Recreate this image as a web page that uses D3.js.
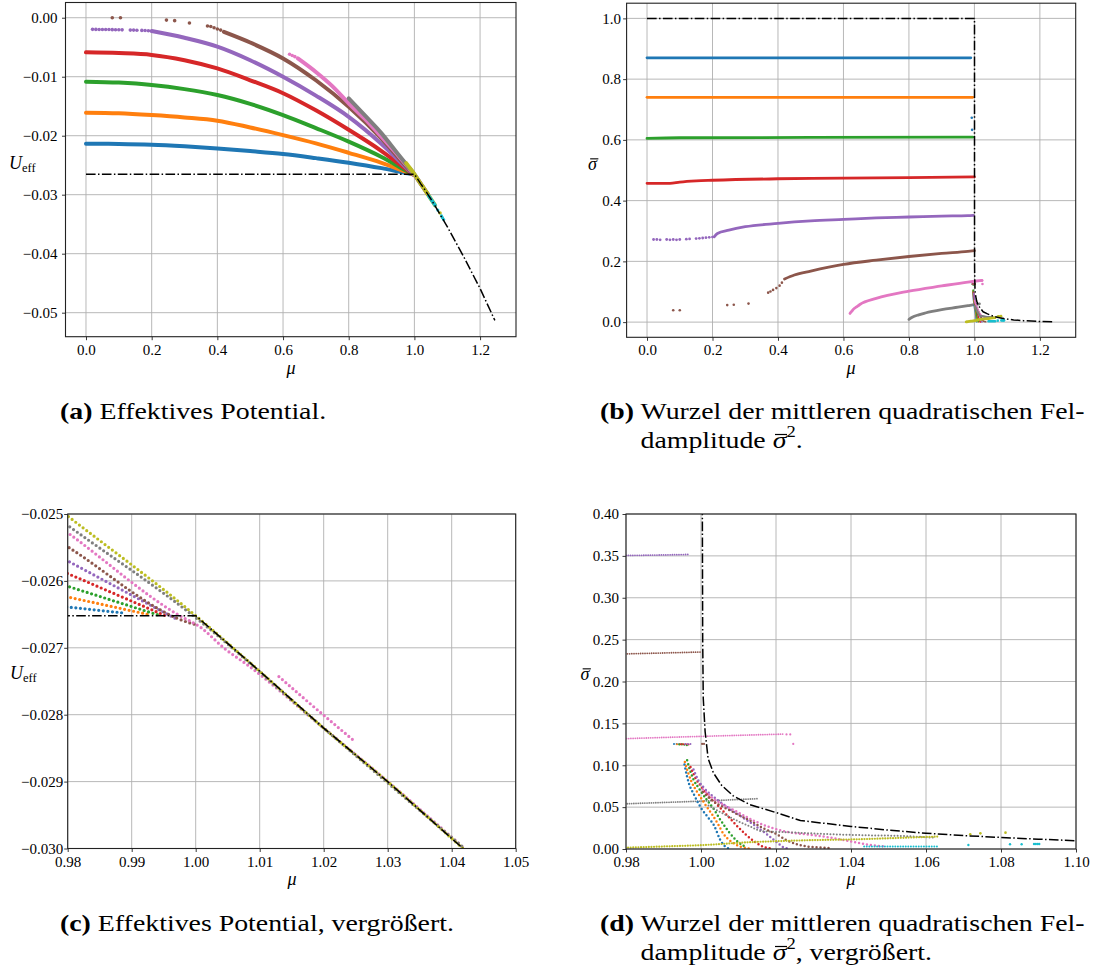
<!DOCTYPE html>
<html><head><meta charset="utf-8">
<script src="https://cdn.jsdelivr.net/npm/d3@7"></script>
<style>
body{margin:0;background:#fff}
svg{display:block}
</style>
</head><body>
<svg id="fig" width="1100" height="971"></svg>
<script>
// ---------------- DATA ----------------
// Panel (a)/(c): effective potential U_eff vs mu  [mu, U]
const potBlue   = [[0,-0.02136],[0.1,-0.02140],[0.2,-0.02153],[0.3,-0.0218],[0.4,-0.02215],[0.5,-0.0226],[0.6,-0.0231],[0.7,-0.0238],[0.8,-0.02457],[0.9,-0.0255],[0.98,-0.02639],[0.9888,-0.02648]];
const potOrange = [[0,-0.0161],[0.1,-0.0162],[0.2,-0.0165],[0.3,-0.0169],[0.4,-0.01745],[0.5,-0.0186],[0.6,-0.0199],[0.7,-0.0213],[0.8,-0.0229],[0.9,-0.0246],[0.98,-0.02624],[0.993,-0.02651]];
const potGreen  = [[0,-0.01084],[0.1,-0.0110],[0.2,-0.0114],[0.3,-0.0121],[0.4,-0.0131],[0.5,-0.0146],[0.6,-0.0165],[0.7,-0.0187],[0.8,-0.0210],[0.9,-0.0236],[0.98,-0.02608],[0.9945,-0.02652]];
const potRed    = [[0,-0.00587],[0.1,-0.0060],[0.2,-0.0063],[0.3,-0.0072],[0.4,-0.0086],[0.5,-0.0106],[0.6,-0.0128],[0.7,-0.0157],[0.8,-0.0190],[0.9,-0.0226],[0.98,-0.02589],[0.9955,-0.02653]];
const potPurpleDots = [[0.02,-0.00197],[0.03,-0.00198],[0.04,-0.0020],[0.05,-0.0020],[0.06,-0.0020],[0.07,-0.0020],[0.08,-0.00202],[0.09,-0.00203],[0.10,-0.00205],[0.11,-0.00206],[0.135,-0.0021],[0.145,-0.0021],[0.155,-0.00213],[0.17,-0.00215],[0.18,-0.00217],[0.19,-0.0022]];
const potPurple = [[0.2,-0.00226],[0.3,-0.0034],[0.4,-0.0049],[0.5,-0.0072],[0.6,-0.0100],[0.7,-0.0132],[0.8,-0.0168],[0.9,-0.0214],[0.98,-0.0257],[0.9968,-0.02656]];
const potBrownDots = [[0.08,0.0],[0.105,0.0],[0.245,-0.0004],[0.27,-0.0005],[0.315,-0.0009],[0.37,-0.0014],[0.38,-0.0015],[0.39,-0.0017],[0.40,-0.0019],[0.41,-0.0021]];
const potBrown  = [[0.42,-0.0024],[0.5,-0.0042],[0.6,-0.0069],[0.7,-0.0106],[0.8,-0.0151],[0.9,-0.0205],[0.98,-0.02549],[0.9995,-0.02664],[1.0003,-0.02666]];
const potPinkDots = [[0.62,-0.0062],[0.628,-0.0064],[0.636,-0.0066]];
const potPink   = [[0.645,-0.0069],[0.7,-0.0092],[0.75,-0.0116],[0.8,-0.0145],[0.85,-0.0172],[0.9,-0.0202],[0.95,-0.0233],[0.98,-0.02528],[0.9975,-0.02652],[1.0007,-0.02669],[1.0045,-0.02701],[1.008,-0.02725],[1.02,-0.0282],[1.03,-0.0290],[1.042,-0.0300]];
const potPinkUpper = [[1.013,-0.02743],[1.0166,-0.02773],[1.0245,-0.02837]];
const potGray   = [[0.8,-0.01366],[0.85,-0.0166],[0.9,-0.0196],[0.95,-0.0231],[0.98,-0.02517],[1.0,-0.02655],[1.02,-0.0282],[1.042,-0.0300]];
const potOlive  = [[0.975,-0.02466],[0.98,-0.02503],[1.0,-0.02652],[1.01,-0.02735],[1.02,-0.0282],[1.03,-0.0290],[1.04,-0.02985],[1.05,-0.0307],[1.063,-0.0318]];
const potOliveDots = [[1.078,-0.0331]];
const potCyan   = [[1.0435,-0.0302],[1.063,-0.0318]];
const potCyanDots = [[1.0713,-0.0326],[1.0824,-0.0336],[1.0855,-0.0339],[1.089,-0.0342]];
const potBlack  = [[0,-0.02652],[1.0,-0.02652],[1.01,-0.02735],[1.02,-0.0282],[1.03,-0.0290],[1.04,-0.02985],[1.05,-0.0307],[1.1,-0.0354],[1.15,-0.0405],[1.2,-0.0459],[1.245,-0.0513]];

// Panel (b)/(d): root mean square field amplitude sigma vs mu  [mu, sigma]
const sigBlue   = [[0,0.870],[0.989,0.870]];
const sigBlueDots = [[0.992,0.673],[0.993,0.633]];
const sigOrange = [[0,0.740],[0.995,0.740]];
const sigGreen  = [[0,0.605],[0.1,0.607],[0.5,0.608],[0.995,0.609]];
const sigRed    = [[0,0.457],[0.07,0.457],[0.1,0.461],[0.15,0.465],[0.2,0.467],[0.4,0.472],[0.6,0.474],[0.8,0.476],[1.0,0.478]];
const sigPurpleDots = [[0.02,0.272],[0.03,0.272],[0.04,0.271],[0.06,0.272],[0.07,0.271],[0.08,0.272],[0.09,0.271],[0.10,0.272],[0.12,0.273],[0.13,0.274],[0.15,0.275],[0.16,0.276],[0.17,0.277],[0.18,0.278],[0.19,0.279],[0.20,0.280]];
const sigPurple = [[0.205,0.281],[0.215,0.292],[0.25,0.303],[0.3,0.314],[0.4,0.325],[0.5,0.333],[0.6,0.338],[0.7,0.343],[0.8,0.346],[0.9,0.349],[0.98,0.3505],[0.9966,0.3517]];
const sigBrownDots = [[0.08,0.039],[0.10,0.039],[0.245,0.056],[0.265,0.057],[0.31,0.061],[0.37,0.097],[0.377,0.101],[0.385,0.106],[0.395,0.112],[0.405,0.120],[0.412,0.130]];
const sigBrown  = [[0.42,0.142],[0.45,0.155],[0.5,0.168],[0.6,0.190],[0.7,0.204],[0.8,0.216],[0.9,0.226],[0.98,0.2330],[1.0,0.2352]];
const sigPink   = [[0.62,0.0285],[0.625,0.035],[0.63,0.042],[0.64,0.050],[0.65,0.058],[0.7,0.078],[0.8,0.102],[0.9,0.119],[0.98,0.1318],[1.0,0.1345],[1.022,0.1372]];
const sigPinkDots = [[1.0228,0.1368],[1.0238,0.1368],[1.0246,0.1255]];
const sigGray   = [[0.8,0.009],[0.81,0.016],[0.83,0.024],[0.85,0.030],[0.9,0.041],[0.95,0.049],[0.98,0.054],[1.0,0.0572],[1.0155,0.0602]];
const sigGrayLow = [[1.002,0.052],[1.006,0.042],[1.010,0.033],[1.014,0.025],[1.0158,0.0216],[1.0252,0.0196],[1.0346,0.0176],[1.044,0.0164],[1.0534,0.0156],[1.062,0.0136]];
const sigOlive  = [[0.975,0.001],[0.98,0.0016],[0.99,0.0030],[1.0,0.0046],[1.005,0.0058],[1.01,0.0074],[1.02,0.0093],[1.03,0.0106],[1.04,0.0114],[1.05,0.0128],[1.063,0.0148]];
const sigOliveDots = [[1.0718,0.0177],[1.0745,0.0187],[1.0812,0.0195]];
const sigCyan   = [[1.0435,0.003],[1.063,0.003]];
const sigCyanDots = [[1.0713,0.0048],[1.0824,0.0056],[1.0855,0.0056],[1.0888,0.006],[1.0893,0.006],[1.0898,0.006],[1.0902,0.006]];
const clusterBlue   = [[0.9928,0.1255],[0.9952,0.1255]];
const clusterOrange = [[0.9936,0.1252],[0.9956,0.1250]];
const clusterGreen  = [[0.9942,0.1248],[0.9962,0.1240],[0.9964,0.1218]];
const clusterRed    = [[0.9946,0.1252],[0.9968,0.1248]];
const clusterPurple = [[0.9958,0.1255],[0.9978,0.1255]];
const clusterBrownDots = [[1.0003,0.1255],[1.0008,0.1255]];
const fanBlue   = [[0.9956,0.101],[0.9962,0.088],[0.9968,0.078],[0.998,0.066],[1.0003,0.047],[1.002,0.037],[1.0035,0.028],[1.005,0.012],[1.0062,0.004],[1.0075,0.0005]];
const fanOrange = [[0.9957,0.104],[0.9965,0.092],[0.9975,0.080],[0.999,0.068],[1.001,0.054],[1.003,0.041],[1.0045,0.030],[1.006,0.018],[1.008,0.009],[1.0105,0.003],[1.013,0.0005]];
const fanGreen  = [[0.9963,0.106],[0.997,0.095],[0.998,0.083],[0.9995,0.072],[1.0015,0.059],[1.0035,0.047],[1.005,0.036],[1.0075,0.020],[1.0095,0.010],[1.012,0.002]];
const fanRed    = [[0.9972,0.098],[0.9985,0.085],[1.0,0.075],[1.002,0.063],[1.0045,0.052],[1.007,0.040],[1.0095,0.028],[1.012,0.017],[1.0145,0.008],[1.017,0.002],[1.019,0.0005]];
const fanPurple = [[0.998,0.095],[0.9993,0.082],[1.001,0.072],[1.004,0.060],[1.007,0.050],[1.011,0.038],[1.015,0.026],[1.018,0.016],[1.0205,0.007],[1.022,0.002],[1.0235,0.0005]];
const fanBrown  = [[1.0005,0.068],[1.003,0.058],[1.006,0.050],[1.0095,0.042],[1.0135,0.033],[1.0165,0.025],[1.02,0.018],[1.023,0.010],[1.027,0.004],[1.031,0.002],[1.0345,0.001]];
const fanPink   = [[1.0005,0.071],[1.004,0.058],[1.009,0.046],[1.014,0.034],[1.019,0.025],[1.0235,0.020],[1.029,0.017],[1.034,0.014],[1.04,0.009],[1.045,0.005],[1.049,0.003]];
const sigBlack  = [[0,1.0],[1.0003,1.0],[1.00035,0.42],[1.00045,0.25],[1.0006,0.18],[1.0011,0.14],[1.0019,0.108],[1.0033,0.091],[1.0055,0.076],[1.0086,0.0635],[1.013,0.053],[1.02,0.0435],[1.0265,0.034],[1.04,0.027],[1.05,0.0225],[1.06,0.0188],[1.07,0.016],[1.08,0.0138],[1.09,0.0117],[1.10,0.0099],[1.12,0.0072],[1.15,0.0048],[1.2,0.0022],[1.24,0.001]];

// Tick values
const ticksAx = [0,0.2,0.4,0.6,0.8,1.0,1.2];
const ticksAy = [0,-0.01,-0.02,-0.03,-0.04,-0.05];
const ticksBx = [0,0.2,0.4,0.6,0.8,1.0,1.2];
const ticksBy = [0,0.2,0.4,0.6,0.8,1.0];
const ticksCx = [0.98,0.99,1.00,1.01,1.02,1.03,1.04,1.05];
const ticksCy = [-0.025,-0.026,-0.027,-0.028,-0.029,-0.030];
const ticksDx = [0.98,1.00,1.02,1.04,1.06,1.08,1.10];
const ticksDy = [0,0.05,0.10,0.15,0.20,0.25,0.30,0.35,0.40];

// ---------------- DRAWING ----------------
const FONT = '"Liberation Serif", "Times New Roman", serif';
const COL = {blue:"#1f77b4",orange:"#ff7f0e",green:"#2ca02c",red:"#d62728",purple:"#9467bd",brown:"#8c564b",pink:"#e377c2",gray:"#7f7f7f",olive:"#bcbd22",cyan:"#17becf"};
const DASHDOT = "9.6,2.4,1.5,2.4";
const svg = d3.select("#fig");
const defs = svg.append("defs");

function makePanel(id, p, xt, yt, xf, yf, yPad) {
  const x = d3.scaleLinear().domain(p.xd).range([p.l, p.r]);
  const y = d3.scaleLinear().domain(p.yd).range([p.b, p.t]);
  const g = svg.append("g");
  g.append("g").selectAll("line").data(xt).join("line")
    .attr("x1", d => x(d)).attr("x2", d => x(d)).attr("y1", p.t).attr("y2", p.b)
    .attr("stroke", "#b0b0b0").attr("stroke-width", 0.9);
  g.append("g").selectAll("line").data(yt).join("line")
    .attr("y1", d => y(d)).attr("y2", d => y(d)).attr("x1", p.l).attr("x2", p.r)
    .attr("stroke", "#b0b0b0").attr("stroke-width", 0.9);
  const ax = g.append("g").attr("transform", `translate(0,${p.b})`)
    .call(d3.axisBottom(x).tickValues(xt).tickFormat(d3.format(xf)).tickSize(3.5).tickPadding(3.9));
  const ay = g.append("g").attr("transform", `translate(${p.l},0)`)
    .call(d3.axisLeft(y).tickValues(yt).tickFormat(d3.format(yf)).tickSize(3.5).tickPadding(yPad));
  [ax, ay].forEach(a => {
    a.select(".domain").remove();
    a.attr("font-size", 15).attr("font-family", FONT);
    a.selectAll("line").attr("stroke", "#222").attr("stroke-width", 0.9);
    a.selectAll("text").attr("fill", "#000").style("font-family", FONT).style("font-size", "15px");
  });
  let data = g.append("g");
  if (p.clip) {
    defs.append("clipPath").attr("id", id).append("rect")
      .attr("x", p.l).attr("y", p.t).attr("width", p.r - p.l).attr("height", p.b - p.t);
    data.attr("clip-path", `url(#${id})`);
  }
  const lineC = d3.line().x(d => x(d[0])).y(d => y(d[1])).curve(d3.curveMonotoneX);
  const lineL = d3.line().x(d => x(d[0])).y(d => y(d[1]));
  const api = {
    x, y, g, data,
    line(arr, color, w, dash, linear) {
      data.append("path").datum(arr).attr("d", linear ? lineL : lineC)
        .attr("fill", "none").attr("stroke", color).attr("stroke-width", w)
        .attr("stroke-linecap", dash === DASHDOT ? "butt" : "round").attr("stroke-linejoin", "round")
        .attr("stroke-dasharray", dash || null);
    },
    dots(arr, color, r) {
      data.append("g").selectAll("circle").data(arr).join("circle")
        .attr("cx", d => x(d[0])).attr("cy", d => y(d[1])).attr("r", r).attr("fill", color);
    },
    frame() {
      g.append("rect").attr("x", p.l).attr("y", p.t).attr("width", p.r - p.l).attr("height", p.b - p.t)
        .attr("fill", "none").attr("stroke", "#222").attr("stroke-width", 1.1);
    }
  };
  return api;
}

// ---- Panel (a)
const A = makePanel("ca", {l:65.5, r:516, t:2.5, b:336.7, xd:[-0.0624,1.3094], yd:[-0.05407,0.00258]},
  ticksAx, ticksAy, ".1f", ".2f", 4.5);
[[potBlue,COL.blue],[potOrange,COL.orange],[potGreen,COL.green],[potRed,COL.red]].forEach(s => A.line(s[0], s[1], 4));
A.dots(potPurpleDots, COL.purple, 1.8); A.line(potPurple, COL.purple, 4);
A.dots(potBrownDots, COL.brown, 1.8); A.line(potBrown, COL.brown, 4);
A.dots(potPinkDots, COL.pink, 1.8); A.line(potPink, COL.pink, 4);
A.line(potGray, COL.gray, 4);
A.line(potOlive, COL.olive, 4); A.dots(potOliveDots, COL.olive, 1.8);
A.line(potCyan, COL.cyan, 3.5); A.dots(potCyanDots, COL.cyan, 1.6);
A.line(potBlack, "#000", 1.5, DASHDOT, true);
A.frame();

// ---- Panel (b)
const B = makePanel("cb", {l:626.6, r:1075.7, t:3.2, b:337.3, xd:[-0.0624,1.3094], yd:[-0.05,1.05]},
  ticksBx, ticksBy, ".1f", ".1f", 2);
B.line(sigBlue, COL.blue, 2.8); B.dots(sigBlueDots, COL.blue, 1.3);
B.line(sigOrange, COL.orange, 2.8);
B.line(sigGreen, COL.green, 2.8);
B.line(sigRed, COL.red, 2.8);
B.dots(sigPurpleDots, COL.purple, 1.4); B.line(sigPurple, COL.purple, 2.8);
B.dots(sigBrownDots, COL.brown, 1.3); B.line(sigBrown, COL.brown, 2.8);
B.line(sigPink, COL.pink, 2.8); B.dots(sigPinkDots, COL.pink, 1.3);
B.line(sigGray, COL.gray, 2.8);
[[fanBlue,COL.blue],[fanOrange,COL.orange],[fanGreen,COL.green],[fanRed,COL.red],[fanPurple,COL.purple],[fanBrown,COL.brown],[fanPink,COL.pink]].forEach(s => B.line(s[0], s[1], 1.5));
[[clusterBlue,COL.blue],[clusterOrange,COL.orange],[clusterGreen,COL.green],[clusterRed,COL.red],[clusterPurple,COL.purple]].forEach(s => B.line(s[0], s[1], 1.6));
B.dots(clusterBrownDots, COL.brown, 1.2);
B.line(sigGrayLow, COL.gray, 2.2);
B.line(sigOlive, COL.olive, 2.8); B.dots(sigOliveDots, COL.olive, 1.4);
B.line(sigCyan, COL.cyan, 2.6); B.dots(sigCyanDots, COL.cyan, 1.3);
B.line(sigBlack, "#000", 1.5, DASHDOT, true);
B.frame();

// ---- Panel (c)
const Cp = makePanel("cc", {l:67.7, r:515.7, t:514, b:848.5, xd:[0.98,1.05], yd:[-0.030,-0.025], clip:true},
  ticksCx, ticksCy, ".2f", ".3f", 1);
const DOTC = "0 4.6";
[[potBlue,COL.blue],[potOrange,COL.orange],[potGreen,COL.green],[potRed,COL.red],[potPurple,COL.purple],
 [potBrown,COL.brown],[potPink,COL.pink],[potPinkUpper,COL.pink],[potGray,COL.gray],[potOlive,COL.olive]]
  .forEach(s => Cp.line(s[0], s[1], 3.2, DOTC));
Cp.line(potBlack, "#000", 1.5, DASHDOT, true);
Cp.frame();

// ---- Panel (d)
const D = makePanel("cd", {l:626, r:1076, t:514, b:849, xd:[0.98,1.10], yd:[0,0.40], clip:true},
  ticksDx, ticksDy, ".2f", ".2f", 3.5);
const DOTROW = "0 2.2", DOTFAN = "0 4";
D.line(sigPurple, COL.purple, 1.8, DOTROW);
D.line(sigBrown, COL.brown, 1.8, DOTROW);
D.line(sigPink, COL.pink, 1.8, DOTROW); D.dots(sigPinkDots, COL.pink, 1.1);
D.line(sigGray, COL.gray, 1.8, DOTROW);
[[clusterBlue,COL.blue],[clusterOrange,COL.orange],[clusterGreen,COL.green],[clusterRed,COL.red],[clusterPurple,COL.purple]]
  .forEach(s => D.line(s[0], s[1], 2.0, "0 2.6"));
D.dots(clusterBrownDots, COL.brown, 1.1);
[[fanBlue,COL.blue],[fanOrange,COL.orange],[fanGreen,COL.green],[fanRed,COL.red],[fanPurple,COL.purple],[fanBrown,COL.brown],[fanPink,COL.pink]]
  .forEach(s => D.line(s[0], s[1], 2.5, DOTFAN));
D.line(sigGrayLow, COL.gray, 2.0, "0 3.2");
D.line(sigOlive, COL.olive, 2.2, "0 2.6"); D.dots(sigOliveDots, COL.olive, 1.3);
D.line(sigCyan, COL.cyan, 2.0, "0 2.6"); D.dots(sigCyanDots, COL.cyan, 1.2);
D.line(sigBlack, "#000", 1.5, DASHDOT, true);
D.frame();

// ---------------- LABELS ----------------
function txt(x, y, size) {
  return svg.append("text").attr("x", x).attr("y", y).style("font-family", FONT).style("font-size", size + "px").attr("fill", "#000");
}
function uLabel(x, y) {
  const t = txt(x, y, 18);
  t.append("tspan").style("font-style", "italic").text("U");
  t.append("tspan").style("font-size", "12.5px").attr("dy", 3).text("eff");
}
function sigmaLabel(x, y, size) {
  const t = txt(x, y, size).style("font-style", "italic").text("σ");
  const bb = t.node().getBBox();
  svg.append("line").attr("x1", bb.x + 0.12 * size).attr("x2", bb.x + bb.width + 0.02 * size)
    .attr("y1", y - 0.62 * size).attr("y2", y - 0.62 * size).attr("stroke", "#000").attr("stroke-width", 1.1);
}
function muLabel(x, y) {
  txt(x, y, 18).style("font-style", "italic").attr("text-anchor", "middle").text("μ");
}
uLabel(9, 168.5); uLabel(10, 678.5);
sigmaLabel(588, 170, 18); sigmaLabel(580.5, 680, 18);
muLabel(291, 374); muLabel(851, 374); muLabel(292, 885); muLabel(851, 885);

// ---------------- CAPTIONS ----------------
const SX = 1.16, CFS = 24;
function caption(x, y, tag, line1, line2, line2tail) {
  const g = svg.append("g").attr("transform", `translate(${x},${y}) scale(${SX},1)`);
  const t1 = g.append("text").attr("x", 0).attr("y", 0).style("font-family", FONT).style("font-size", CFS + "px").attr("fill", "#000");
  t1.append("tspan").style("font-weight", "bold").text(tag);
  t1.append("tspan").text(" " + line1);
  if (line2 === undefined) return;
  const indent = t1.node().getSubStringLength(0, tag.length + 1);
  const t2 = g.append("text").attr("x", indent).attr("y", 29).style("font-family", FONT).style("font-size", CFS + "px").attr("fill", "#000");
  t2.append("tspan").text(line2);
  t2.append("tspan").style("font-style", "italic").text("σ");
  t2.append("tspan").style("font-size", "16px").attr("dy", -11).text("2");
  t2.append("tspan").attr("dy", 11).text(line2tail);
  const ext = t2.node().getExtentOfChar(line2.length);
  g.append("line").attr("x1", ext.x + 2).attr("x2", ext.x + ext.width + 0.5)
    .attr("y1", 29 - 13.5).attr("y2", 29 - 13.5).attr("stroke", "#000").attr("stroke-width", 1.2);
}
caption(60, 419, "(a)", "Effektives Potential.");
caption(600, 419, "(b)", "Wurzel der mittleren quadratischen Fel-", "damplitude ", ".");
caption(60, 931, "(c)", "Effektives Potential, vergrößert.");
caption(600, 931, "(d)", "Wurzel der mittleren quadratischen Fel-", "damplitude ", ", vergrößert.");
</script>
</body></html>
